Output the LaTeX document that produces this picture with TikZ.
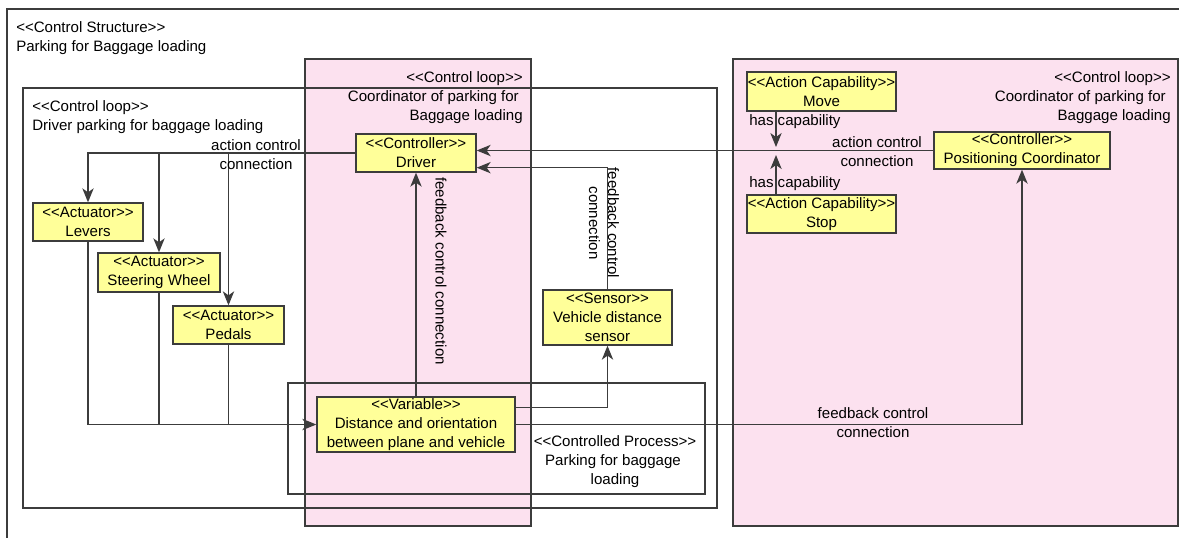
\documentclass[tikz,border=0pt]{standalone}
\usepackage{fontspec}
\setmainfont{Liberation Sans}
\usetikzlibrary{arrows.meta,calc}
\definecolor{capyellow}{HTML}{FFFF99}
\definecolor{looppink}{HTML}{FCE1EF}
\definecolor{edgegray}{HTML}{3C3C3C}
% stereotype brackets, kept apart so the font mapping does not fuse them
\newcommand\stereo[1]{<\kern0pt<#1>\kern0pt>}
\begin{document}
\begin{tikzpicture}[x=0.75pt,y=-0.75pt,
  font=\fontsize{11.3}{14.25}\selectfont,
  frame/.style={draw=edgegray,line width=1pt},
  loopbox/.style={frame,fill=looppink},
  elem/.style 2 args={draw=edgegray,line width=1pt,fill=capyellow,inner sep=0pt,
    align=center,minimum width=#1*0.75pt,minimum height=#2*0.75pt},
  txt/.style={inner sep=0pt},
  lbl/.style={inner sep=0pt,align=center},
  conn/.style={draw=edgegray,line width=1pt},
  arr/.style={conn,-{Stealth[length=10.5pt,width=8.5pt,inset=3pt]}}]
\useasboundingbox (0,0) rectangle (1179,537);
\clip (0,0) rectangle (1179,537);

% control structure frame
\draw[frame] (7,9) rectangle (1200,560);
\node[txt,anchor=base west] (csA) at (16,32) {\stereo{Control Structure}};
\node[txt,anchor=base west] (csB) at (16,51) {Parking for Baggage loading};

% coordinator loops (pink)
\draw[loopbox] (305,59) rectangle (531,526);
\draw[loopbox] (733,59) rectangle (1178,526);

% driver loop and controlled process frames
\draw[frame] (23,88) rectangle (717,508);
\draw[frame] (288,383) rectangle (705,494);

% loop titles
\node[txt,anchor=base west] (dlA) at (32,111) {\stereo{Control loop}};
\node[txt,anchor=base west] (dlB) at (32,130) {Driver parking for baggage loading};
\node[txt,anchor=base east] (clA) at (523,82) {\stereo{Control loop}};
\node[txt,anchor=base east] (clB) at (519,101) {Coordinator of parking for};
\node[txt,anchor=base east] (clC) at (523,120) {Baggage loading};
\node[txt,anchor=base east] (crA) at (1171,82) {\stereo{Control loop}};
\node[txt,anchor=base east] (crB) at (1166,101) {Coordinator of parking for};
\node[txt,anchor=base east] (crC) at (1171,120) {Baggage loading};
\node[txt,anchor=base] (cpA) at (615,446) {\stereo{Controlled Process}};
\node[txt,anchor=base] (cpB) at (613,465) {Parking for baggage};
\node[txt,anchor=base] (cpC) at (615,484) {loading};

% elements
\node[elem={120}{38}] (drv) at (416,153) {\stereo{Controller}\\Driver};
\node[elem={149}{39}] (move) at (821.5,91.5) {\stereo{Action Capability}\\Move};
\node[elem={149}{38}] (stop) at (821.5,214) {\stereo{Action Capability}\\Stop};
\node[elem={176}{37}] (pc) at (1022,150.5) {\stereo{Controller}\\Positioning Coordinator};
\node[elem={110}{38}] (lev) at (88,222) {\stereo{Actuator}\\Levers};
\node[elem={122}{39}] (sw) at (159,272.5) {\stereo{Actuator}\\Steering Wheel};
\node[elem={111}{38}] (ped) at (228.5,325) {\stereo{Actuator}\\Pedals};
\node[elem={129}{55}] (sen) at (607.5,317.5) {\stereo{Sensor}\\Vehicle distance\\sensor};
\node[elem={198}{55}] (var) at (416,424.5) {\stereo{Variable}\\Distance and orientation\\between plane and vehicle};

% action control: positioning coordinator -> driver
\draw[arr] (pc.west) -- (pc.west -| drv.east);
\node[lbl] (acR) at (877,152) {action control\\connection};

% capabilities attached to the action control connection
\coordinate (hc) at (776,151);
\draw[arr,shorten >=3pt] (move.south -| hc) -- (hc);
\draw[arr,shorten >=3pt] (stop.north -| hc) -- (hc);
\node[txt,anchor=base west] (hcA) at (749,125) {has capability};
\node[txt,anchor=base west] (hcB) at (749,187) {has capability};

% action control: driver -> actuators
\draw[arr] (drv.west) -| (lev.north);
\draw[arr] (drv.west -| sw.north) -- (sw.north);
\draw[arr] (drv.west -| ped.north) -- (ped.north);
\node[lbl] (acL) at (256,155) {action control\\connection};

% actuators -> controlled variable
\draw[conn] (sw.south) -- (sw.south |- var.west);
\draw[conn] (ped.south) -- (ped.south |- var.west);
\draw[arr] (lev.south) |- (var.west);

% feedback: variable -> driver
\draw[arr] (var.north) -- (drv.south);
\node[txt,rotate=-90] (fbA) at (441,271) {feedback control connection};

% feedback: variable -> sensor -> driver
\draw[arr] ($(var.north east)+(0,11)$) -| (sen.south);
\draw[arr] (sen.north) |- ($(drv.south east)+(0,-5)$);
\node[lbl,rotate=-90] (fbB) at (604,223) {feedback control\\connection};

% feedback: variable -> positioning coordinator
\draw[arr] (var.east) -| (pc.south);
\node[lbl] (fbC) at (873,423) {feedback control\\connection};
\end{tikzpicture}
\end{document}
